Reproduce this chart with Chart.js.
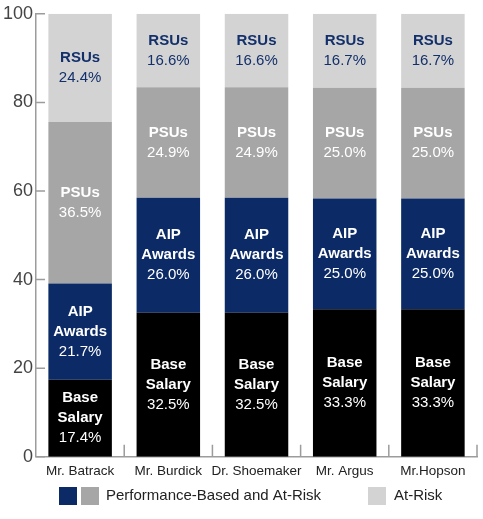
<!DOCTYPE html>
<html>
<head>
<meta charset="utf-8">
<script src="https://cdn.jsdelivr.net/npm/chart.js@4/dist/chart.umd.min.js"></script>
<style>
  html, body { margin: 0; padding: 0; background: #fff; }
  #wrap { width: 483px; height: 519px; position: relative; }
</style>
</head>
<body>
<div id="wrap"><canvas id="chart"></canvas></div>
<script>
const executives = ['Mr. Batrack', 'Mr. Burdick', 'Dr. Shoemaker', 'Mr. Argus', 'Mr.Hopson'];
const baseSalary = [17.4, 32.5, 32.5, 33.3, 33.3];
const aipAwards = [21.7, 26.0, 26.0, 25.0, 25.0];
const psus = [36.5, 24.9, 24.9, 25.0, 25.0];
const rsus = [24.4, 16.6, 16.6, 16.7, 16.7];
const yTicks = [0, 20, 40, 60, 80, 100];

const NAVY = '#0b2a66';
const AXIS = '#9c9c9c';
const FONT = '"Liberation Sans", Arial, Helvetica, sans-serif';

// text labels drawn in the middle of every segment
const segmentLabels = {
  id: 'segmentLabels',
  afterDatasetsDraw(chart) {
    const ctx = chart.ctx;
    ctx.save();
    ctx.textAlign = 'center';
    ctx.textBaseline = 'middle';
    chart.data.datasets.forEach((ds, di) => {
      const meta = chart.getDatasetMeta(di);
      meta.data.forEach((bar, i) => {
        const lines = ds.segName.split('\n');
        const all = lines.map(t => ({ t, bold: true })).concat([{ t: ds.data[i].toFixed(1) + '%', bold: false }]);
        const lh = 20;
        const mid = (bar.y + bar.base) / 2;
        let y = mid - (all.length - 1) * lh / 2;
        ctx.fillStyle = ds.textColor;
        all.forEach(l => {
          ctx.font = (l.bold ? 'bold ' : '') + '15px ' + FONT;
          ctx.fillText(l.t, bar.x, y);
          y += lh;
        });
      });
    });
    ctx.restore();
  }
};

// inward tick marks and custom legend
const axisExtras = {
  id: 'axisExtras',
  afterDraw(chart) {
    const ctx = chart.ctx;
    const area = chart.chartArea;
    const ys = chart.scales.y;
    ctx.save();
    ctx.strokeStyle = AXIS;
    ctx.lineWidth = 1.5;
    ctx.beginPath();
    yTicks.forEach(v => {
      const py = ys.getPixelForValue(v);
      ctx.moveTo(area.left, py);
      ctx.lineTo(area.left + 9, py);
    });
    const step = (area.right - area.left) / executives.length;
    for (let i = 1; i <= executives.length; i++) {
      const px = area.left + step * i;
      ctx.moveTo(px, area.bottom);
      ctx.lineTo(px, area.bottom - 12);
    }
    ctx.stroke();

    // legend
    const ly = 487, sz = 18;
    ctx.fillStyle = NAVY; ctx.fillRect(59, ly, sz, sz);
    ctx.fillStyle = '#a6a6a6'; ctx.fillRect(81, ly, sz, sz);
    ctx.fillStyle = '#d3d3d3'; ctx.fillRect(368, ly, sz, sz);
    ctx.fillStyle = '#222';
    ctx.font = '15px ' + FONT;
    ctx.textBaseline = 'middle';
    ctx.textAlign = 'left';
    ctx.fillText('Performance-Based and At-Risk', 106, ly + sz / 2);
    ctx.fillText('At-Risk', 394, ly + sz / 2);
    ctx.restore();
  }
};

new Chart(document.getElementById('chart'), {
  type: 'bar',
  data: {
    labels: executives,
    datasets: [
      { label: 'Base Salary', segName: 'Base\nSalary', data: baseSalary, backgroundColor: '#000000', textColor: '#ffffff' },
      { label: 'AIP Awards', segName: 'AIP\nAwards', data: aipAwards, backgroundColor: NAVY, textColor: '#ffffff' },
      { label: 'PSUs', segName: 'PSUs', data: psus, backgroundColor: '#a6a6a6', textColor: '#ffffff' },
      { label: 'RSUs', segName: 'RSUs', data: rsus, backgroundColor: '#d3d3d3', textColor: '#13306b' }
    ]
  },
  options: {
    responsive: true,
    maintainAspectRatio: false,
    animation: false,
    layout: { padding: { top: 0, right: 6, bottom: 34, left: 0 } },
    datasets: { bar: { categoryPercentage: 1, barPercentage: 0.72 } },
    plugins: { legend: { display: false }, tooltip: { enabled: false } },
    scales: {
      x: {
        stacked: true,
        grid: { display: false, drawTicks: false },
        border: { color: AXIS, width: 1.5 },
        ticks: { color: '#222', font: { family: FONT, size: 13.5 }, padding: 6, maxRotation: 0, autoSkip: false }
      },
      y: {
        stacked: true,
        min: 0,
        max: 100,
        afterBuildTicks(scale) { scale.ticks = yTicks.map(v => ({ value: v })); },
        grid: { display: false, drawTicks: false },
        border: { color: AXIS, width: 1.5 },
        ticks: { color: '#444', font: { family: FONT, size: 18 }, padding: 3 }
      }
    }
  },
  plugins: [segmentLabels, axisExtras]
});
</script>
</body>
</html>
